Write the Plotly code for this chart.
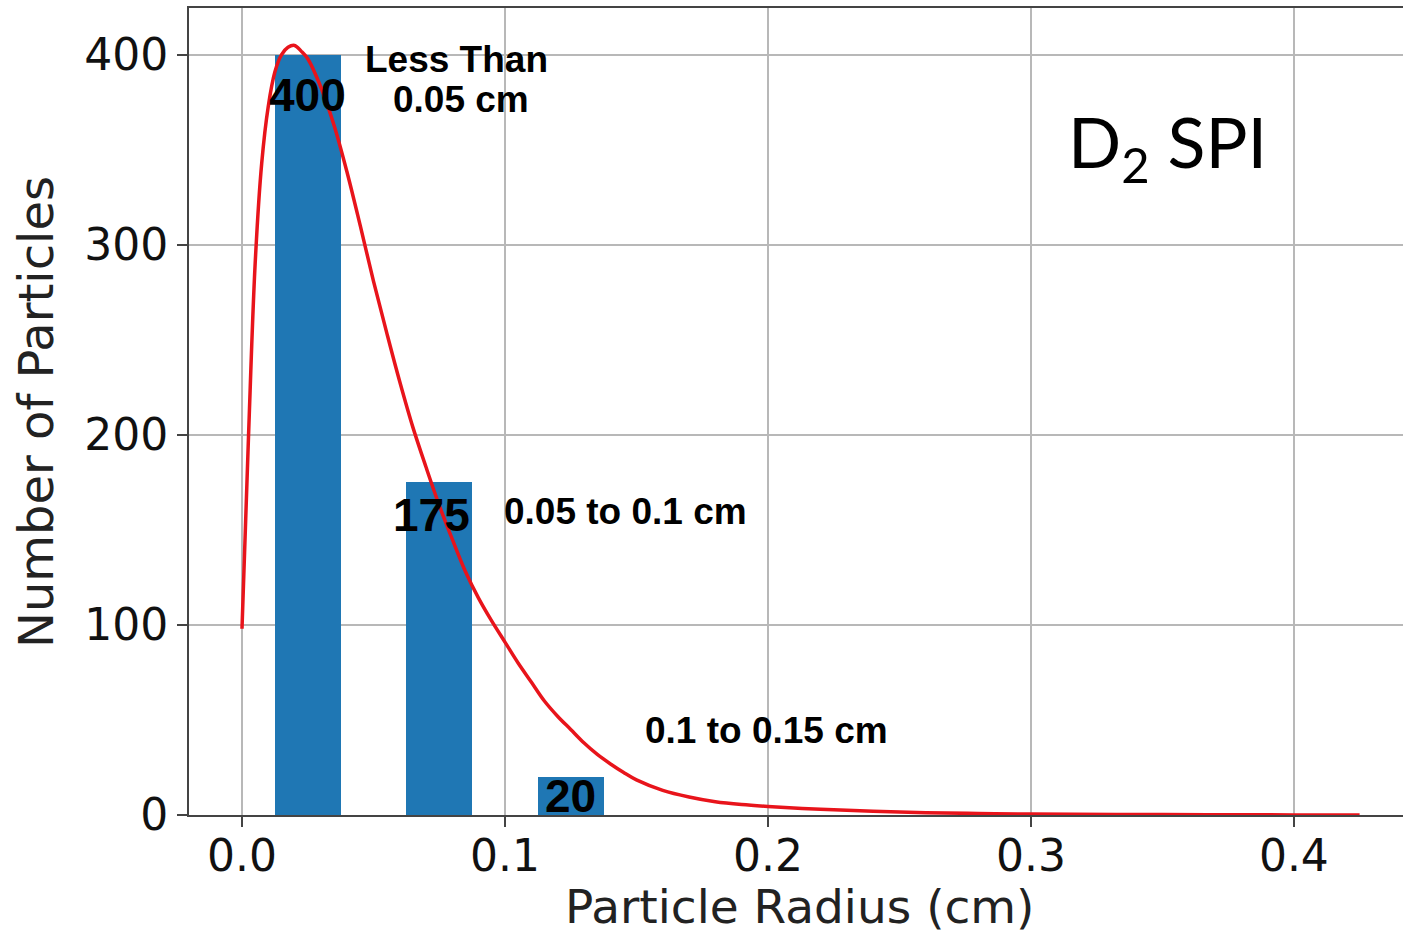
import plotly.graph_objects as go

# ---- data ----
bar_centers = [0.025, 0.075, 0.125]
bar_counts = [400, 175, 20]
bar_labels = ["400", "175", "20"]
bar_label_x = [0.025, 0.0722, 0.125]
bar_label_y = [379, 158, 10]
bar_width = 0.025

fit_radius = [0.0, 0.0025, 0.005, 0.0075, 0.010, 0.0125, 0.015, 0.0175, 0.020, 0.0225,
              0.025, 0.030, 0.035, 0.040, 0.045, 0.050, 0.055, 0.060, 0.065, 0.070,
              0.075, 0.080, 0.085, 0.090, 0.095, 0.100, 0.105, 0.110, 0.115, 0.120,
              0.125, 0.130, 0.135, 0.140, 0.145, 0.150, 0.160, 0.170, 0.180, 0.190,
              0.200, 0.220, 0.240, 0.260, 0.280, 0.300, 0.350, 0.400, 0.425]
fit_count = [98, 200, 290, 343, 373, 391, 400, 404, 405, 402,
             398, 383, 363, 338, 310, 281, 254, 228, 204, 183,
             163, 145, 128, 114, 102, 91, 80, 70, 60, 52,
             45, 38, 32, 27, 22.5, 18.5, 13, 9.5, 7, 5.5,
             4.5, 3, 2, 1.2, 0.8, 0.5, 0.2, 0.05, 0.0]

range_labels = ["Less Than", "0.05 cm", "0.05 to 0.1 cm", "0.1 to 0.15 cm"]
range_label_x = [0.0817, 0.0833, 0.0988, 0.1525]
range_label_y = [397.4, 376.3, 159.5, 44.7]
range_label_anchor = ["center", "center", "left", "left"]

x_ticks = [0.0, 0.1, 0.2, 0.3, 0.4]
y_ticks = [0, 100, 200, 300, 400]

fig = go.Figure()
fig.add_trace(go.Bar(x=bar_centers, y=bar_counts, width=bar_width,
                     marker=dict(color="#1f77b4", line=dict(width=0)),
                     showlegend=False))
fig.add_trace(go.Scatter(x=fit_radius, y=fit_count, mode="lines",
                         line=dict(color="#e8141b", width=3.5, shape="spline", smoothing=1.0),
                         showlegend=False))

bold = dict(family="Liberation Sans, Arial, sans-serif", size=37, color="black")
bold_big = dict(family="Liberation Sans, Arial, sans-serif", size=46, color="black")

for xc, ly, lab in zip(bar_label_x, bar_label_y, bar_labels):
    fig.add_annotation(x=xc, y=ly, text="<b>%s</b>" % lab, showarrow=False,
                       xanchor="center", yanchor="middle", font=bold_big)

for t, xx, yy, anc in zip(range_labels, range_label_x, range_label_y, range_label_anchor):
    fig.add_annotation(x=xx, y=yy, text="<b>%s</b>" % t, showarrow=False,
                       xanchor=anc, yanchor="middle", font=bold)

fig.add_annotation(x=0.352, y=352, text="D<sub>2</sub> SPI", showarrow=False,
                   xanchor="center", yanchor="middle",
                   font=dict(family="Lato, Open Sans, sans-serif", size=70, color="black"))

# axis titles
fig.add_annotation(xref="paper", yref="paper", x=-0.126, y=0.4994, text="Number of Particles",
                   textangle=-90, showarrow=False, xanchor="center", yanchor="middle",
                   font=dict(family="DejaVu Sans", size=48, color="#222"))
fig.add_annotation(xref="paper", yref="paper", x=0.503, y=-0.1135, text="Particle Radius (cm)",
                   showarrow=False, xanchor="center", yanchor="middle",
                   font=dict(family="DejaVu Sans", size=47, color="#222"))

axis_common = dict(showgrid=True, gridcolor="#b8b8b8", gridwidth=1.5,
                   showline=True, linecolor="#444", linewidth=2,
                   ticks="outside", ticklen=10, tickwidth=1.5, tickcolor="#444",
                   tickfont=dict(family="DejaVu Sans", size=44, color="#111"),
                   zeroline=False)

fig.update_xaxes(range=[-0.02015, 0.4415], tickvals=x_ticks,
                 ticktext=["%.1f" % v for v in x_ticks], mirror=True,
                 ticklabelstandoff=-9, **axis_common)
fig.update_yaxes(range=[0, 424.7], tickvals=y_ticks,
                 ticktext=[str(v) for v in y_ticks], **axis_common)

fig.update_layout(width=1403, height=933, margin=dict(l=189, r=0, t=8, b=118),
                  plot_bgcolor="white", paper_bgcolor="white", bargap=0)

fig.write_html("out.html")
